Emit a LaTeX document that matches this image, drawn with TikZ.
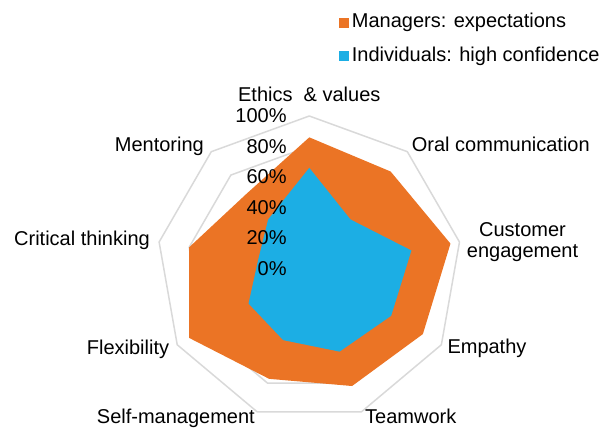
\documentclass[tikz,border=0pt]{standalone}
\usepackage{fontspec}
\setmainfont{Liberation Sans}
\definecolor{mgrorange}{RGB}{235,116,37}
\definecolor{indblue}{RGB}{28,174,228}
\definecolor{gridgray}{RGB}{217,217,217}

\begin{document}
\begin{tikzpicture}[x=1bp,y=1bp,
every node/.style={inner sep=0pt,font=\fontsize{20bp}{21bp}\selectfont},
gridline/.style={draw=gridgray,line width=1.5bp,line join=round},
ticklabel/.style={anchor=east},
keybox/.style={minimum size=10bp}]

\useasboundingbox (-309.3,-159.5) rectangle (296.7,268.5);

% rings 0..100%
\foreach \r in {20,40,...,100}
  \draw[gridline] (90:1.525*\r) \foreach \a in {50,10,...,-230} {-- (\a:1.525*\r)} -- cycle;

% series
\fill[mgrorange] (90:1.525*86) \foreach \a/\v in {50/83,10/94,-30/86,-70/82,-110/77,-150/91,170/80,130/64} {-- (\a:1.525*\v)} -- cycle;
\fill[indblue] (90:1.525*66) \foreach \a/\v in {50/42,10/68,-30/62,-70/58,-110/50,-150/46,170/34,130/42} {-- (\a:1.525*\v)} -- cycle;

% scale
\foreach \t in {0,20,...,100}
  \node[ticklabel] (tick\t) at (-22.5,1.525*\t) {\t\%};

% axis labels
\node[anchor=base] (ethics) at (0,166.8) {Ethics\ \ \& values};
\node[anchor=base west] (oral) at (102.4,116.8) {Oral communication};
\node[anchor=west,align=center] (customer) at (157.4,26.5) {Customer\\engagement};
\node[anchor=base west] (empathy) at (138,-84.8) {Empathy};
\node[anchor=base west] (team) at (55.7,-154.8) {Teamwork};
\node[anchor=base east] (selfmgmt) at (-54.3,-154.8) {Self-management};
\node[anchor=base east] (flex) at (-140,-85.5) {Flexibility};
\node[anchor=base east] (critical) at (-159.3,23.5) {Critical thinking};
\node[anchor=base east] (mentor) at (-105.3,116.8) {Mentoring};

% legend
\node[keybox,fill=mgrorange] (mgrkey) at (34.2,245.5) {};
\node[anchor=base west] (mgrtext) at (42.4,241) {Managers: expectations};
\node[keybox,fill=indblue] (indkey) at (34.2,213) {};
\node[anchor=base west] (indtext) at (42.4,207.5) {Individuals: high confidence};

\end{tikzpicture}
\end{document}
